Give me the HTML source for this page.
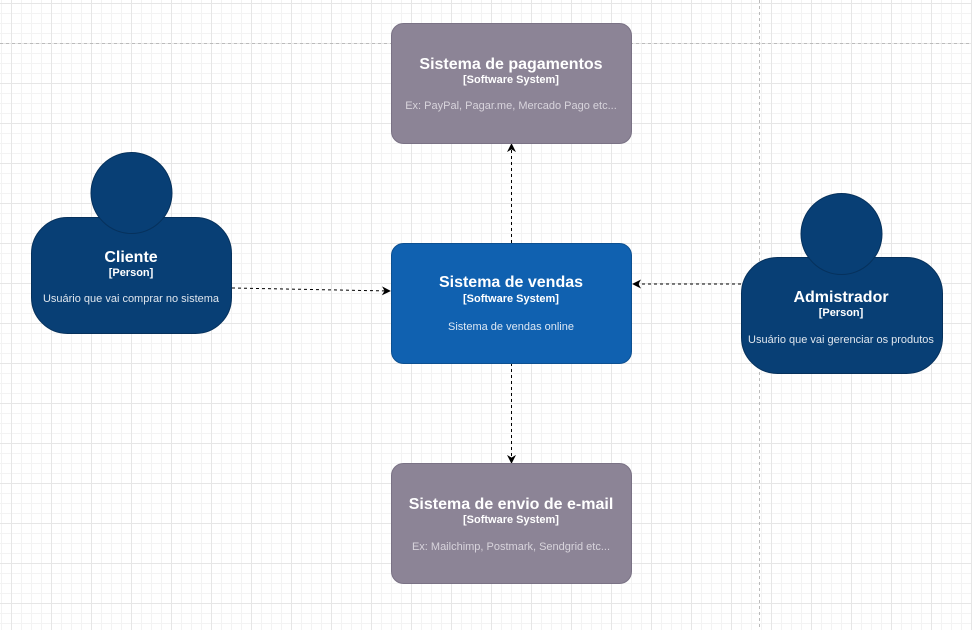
<!DOCTYPE html>
<html><head><meta charset="utf-8"><style>
html,body{margin:0;padding:0;background:#fff}
svg{display:block}
text{font-family:"Liberation Sans",Arial,sans-serif;text-anchor:middle}
</style></head><body>
<svg width="972" height="630" viewBox="0 0 972 630" xmlns="http://www.w3.org/2000/svg">
<defs>
<pattern id="minor" x="1" y="3" width="10" height="10" patternUnits="userSpaceOnUse">
<path d="M0 0.5H10M0.5 0V10" stroke="#f3f3f3" stroke-width="1" fill="none"/>
</pattern>
<pattern id="major" x="11" y="3" width="40" height="40" patternUnits="userSpaceOnUse">
<path d="M0 0.5H40M0.5 0V40" stroke="#e6e6e6" stroke-width="1" fill="none"/>
</pattern>
<marker id="ah" viewBox="0 0 10 10" refX="9" refY="5" markerWidth="9" markerHeight="9" orient="auto" markerUnits="userSpaceOnUse">
<path d="M0 0L10 5L0 10L3 5Z" fill="#000"/>
</marker>
</defs>
<rect width="972" height="630" fill="url(#minor)"/>
<rect width="972" height="630" fill="url(#major)"/>
<line x1="0" y1="43.5" x2="972" y2="43.5" stroke="#bbb" stroke-dasharray="3,3"/>
<line x1="759.5" y1="0" x2="759.5" y2="630" stroke="#bbb" stroke-dasharray="3,3"/>

<line x1="232" y1="288" x2="390" y2="291" stroke="#000" stroke-dasharray="3,3" marker-end="url(#ah)"/>
<line x1="741" y1="284" x2="633" y2="284" stroke="#000" stroke-dasharray="3,3" marker-end="url(#ah)"/>
<line x1="511.5" y1="243" x2="511.5" y2="144" stroke="#000" stroke-dasharray="3,3" marker-end="url(#ah)"/>
<line x1="511.5" y1="363" x2="511.5" y2="463" stroke="#000" stroke-dasharray="3,3" marker-end="url(#ah)"/>

<rect x="391.5" y="23.5" width="240" height="120" rx="12" fill="#8C8496" stroke="#7A7285"/>
<text x="511" y="69" font-size="16" font-weight="bold" fill="#fff">Sistema de pagamentos</text>
<text x="511" y="83" font-size="11" font-weight="bold" fill="#fff">[Software System]</text>
<text x="511" y="109" font-size="11" fill="#d8d4dc">Ex: PayPal, Pagar.me, Mercado Pago etc...</text>

<rect x="391.5" y="243.5" width="240" height="120" rx="12" fill="#1061B0" stroke="#0D5091"/>
<text x="511" y="287" font-size="16" font-weight="bold" fill="#fff">Sistema de vendas</text>
<text x="511" y="302" font-size="11" font-weight="bold" fill="#fff">[Software System]</text>
<text x="511" y="330" font-size="11" fill="#dde8f4">Sistema de vendas online</text>

<rect x="391.5" y="463.5" width="240" height="120" rx="12" fill="#8C8496" stroke="#7A7285"/>
<text x="511" y="509" font-size="16" font-weight="bold" fill="#fff">Sistema de envio de e-mail</text>
<text x="511" y="523" font-size="11" font-weight="bold" fill="#fff">[Software System]</text>
<text x="511" y="550" font-size="11" fill="#d8d4dc">Ex: Mailchimp, Postmark, Sendgrid etc...</text>

<rect x="31.5" y="217.5" width="200" height="116" rx="36" fill="#083F75" stroke="#06315C"/>
<circle cx="131.5" cy="193" r="40.5" fill="#083F75" stroke="#06315C"/>
<text x="131" y="262" font-size="16" font-weight="bold" fill="#fff">Cliente</text>
<text x="131" y="276" font-size="11" font-weight="bold" fill="#fff">[Person]</text>
<text x="131" y="302" font-size="11" fill="#dfe6ee">Usuário que vai comprar no sistema</text>

<rect x="741.5" y="257.5" width="201" height="116" rx="36" fill="#083F75" stroke="#06315C"/>
<circle cx="841.5" cy="234" r="40.5" fill="#083F75" stroke="#06315C"/>
<text x="841" y="302" font-size="16" font-weight="bold" fill="#fff">Admistrador</text>
<text x="841" y="316" font-size="11" font-weight="bold" fill="#fff">[Person]</text>
<text x="841" y="343" font-size="11" fill="#dfe6ee">Usuário que vai gerenciar os produtos</text>
</svg>
</body></html>
